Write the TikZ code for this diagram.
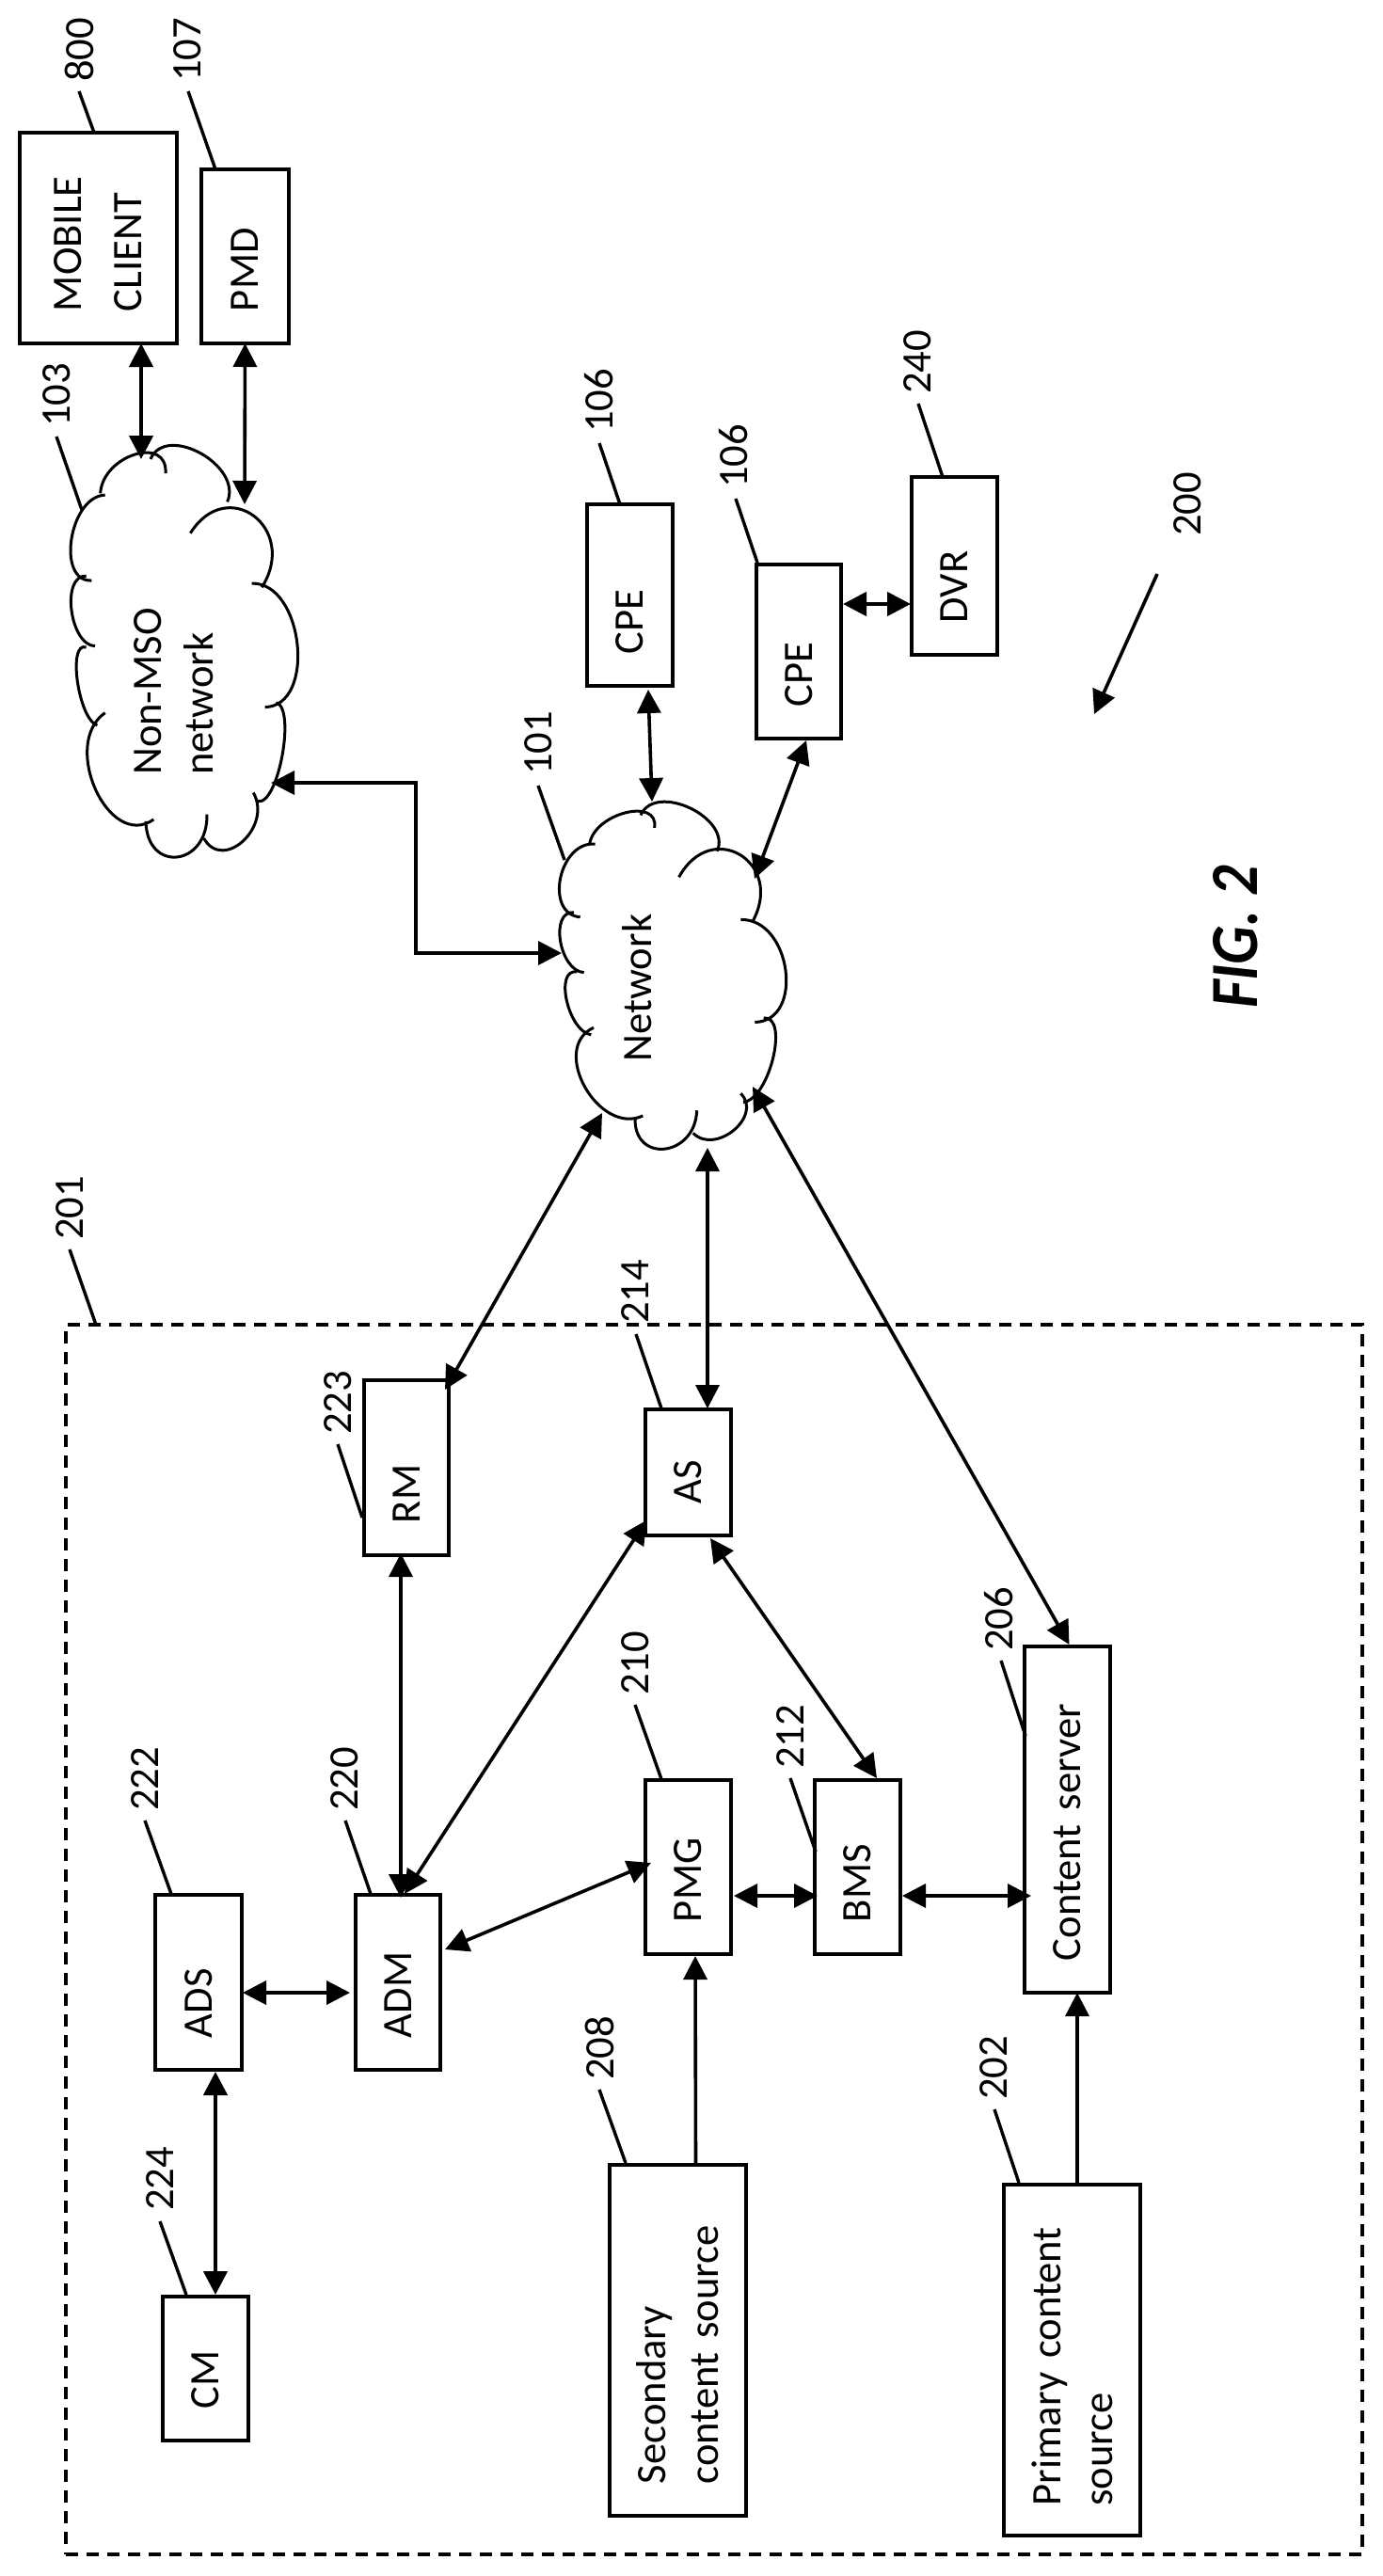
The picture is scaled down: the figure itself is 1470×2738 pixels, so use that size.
\documentclass[tikz,border=0pt]{standalone}
\usepackage{fontspec}
\setmainfont{Carlito}
\usetikzlibrary{arrows.meta,calc}
\tikzset{
  txt/.style={font=\fontsize{22.3}{26}\selectfont},
  lab/.style={txt,rotate=90,inner sep=0pt,outer sep=0pt},
  box/.style={txt,draw=black,line width=1.7pt,rotate=90,inner sep=0pt,outer sep=0pt,align=left},
  dbox/.style={draw=black,line width=1.7pt,dash pattern=on 6.5pt off 4.5pt,inner sep=0pt,outer sep=0pt},
  leader/.style={line width=1.7pt},
  cl/.style={line width=1.5pt},
  link/.style={line width=1.8pt,>={Triangle[width=12.5pt,length=12.5pt]},<->},
  oneway/.style={line width=1.8pt,>={Triangle[width=12.5pt,length=12.5pt]},->},
  heavy/.style={line width=2.2pt}
}
\newcommand\bx[6][]{\node[box,minimum width={(#5-#3)*0.5pt},minimum height={(#4-#2)*0.5pt},text width={(#5-#3-68)*0.5pt},#1] at ({(#2+#4)/2},{(#3+#5)/2}) #6;}
\newcommand\ld[3]{\coordinate (#1) at (#2); \draw[leader] (#1) -- (#3);}
\newcommand\lobe[3]{\coordinate (ls) at #1; \coordinate (lm) at #2; \coordinate (le) at #3;
  \draw[cl] (ls) .. controls ($(ls)+1.3333*(lm)-0.6667*(ls)-0.6667*(le)$) and ($(le)+1.3333*(lm)-0.6667*(ls)-0.6667*(le)$) .. (le);}
\begin{document}
\begin{tikzpicture}[x=0.5pt,y=-0.5pt]
\useasboundingbox (0,0) rectangle (1470,2738);
\fill[white] (0,0) rectangle (1470,2738);

% dashed enclosure
\node[dbox,minimum width=689pt,minimum height=653.5pt] (enc) at (759,2061.5) {};

% boxes
\bx{21}{141}{188}{365}{(mobile) {MOBILE\\[6pt]CLIENT}}
\bx{214}{180}{307}{365}{(pmd) {PMD}}
\bx{624}{536}{715}{729}{(cpea) {CPE}}
\bx{804}{600}{894}{785}{(cpeb) {CPE}}
\bx{969}{507}{1060}{696}{(dvr) {DVR}}
\bx{387}{1467}{477}{1653}{(rm) {RM}}
\bx{686}{1498}{777}{1632}{(as) {AS}}
\bx{165}{2014}{257}{2200}{(ads) {ADS}}
\bx{378}{2014}{468}{2200}{(adm) {ADM}}
\bx{686}{1892}{777}{2077}{(pmg) {PMG}}
\bx{866}{1892}{957}{2077}{(bms) {BMS}}
\bx{1089}{1750}{1180}{2118}{(content) {Content server}}
\bx{173}{2441}{264}{2594}{(cm) {CM}}
\bx{648}{2301}{793}{2674}{(secondary) {Secondary\\[2pt]content source}}
\bx[text width=155pt]{1067}{2322}{1212}{2695}{(primary) {Primary content\\[1.5pt]source}}

% Non-MSO cloud
\begin{scope}[xscale=0.33333,yscale=0.60606]
\lobe{(335,868)}{(228,945)}{(292,1018)}
\lobe{(275,1010)}{(228,1070)}{(303,1133)}
\lobe{(275,1135)}{(247,1195)}{(310,1272)}
\lobe{(335,1250)}{(305,1385)}{(490,1437)}
\lobe{(465,1440)}{(565,1503)}{(660,1428)}
\lobe{(650,1470)}{(775,1475)}{(808,1390)}
\lobe{(822,1405)}{(900,1325)}{(880,1232)}
\lobe{(845,1240)}{(948,1130)}{(803,1023)}
\lobe{(607,935)}{(810,905)}{(835,1030)}
\lobe{(725,880)}{(640,795)}{(480,805)}
\lobe{(528,830)}{(430,797)}{(320,865)}
\end{scope}
\node[lab,align=left] (nonmso) at (185,735) {Non-MSO\\[1.5pt]network};

% Network cloud
\begin{scope}[shift={(500,700)},xscale=0.33333,yscale=0.38265]
\lobe{(398,515)}{(287,610)}{(350,718)}
\lobe{(330,705)}{(287,785)}{(362,872)}
\lobe{(340,870)}{(307,950)}{(385,1045)}
\lobe{(393,1025)}{(365,1190)}{(550,1270)}
\lobe{(525,1275)}{(620,1362)}{(722,1255)}
\lobe{(710,1318)}{(840,1310)}{(862,1208)}
\lobe{(870,1232)}{(965,1110)}{(935,998)}
\lobe{(907,1010)}{(1005,865)}{(862,725)}
\lobe{(665,607)}{(860,545)}{(900,730)}
\lobe{(787,535)}{(700,415)}{(543,435)}
\lobe{(587,470)}{(495,428)}{(380,515)}
\end{scope}
\node[lab] (network) at (677,1050) {Network};

% cloud contact points
\coordinate (nA) at (150,488);
\coordinate (nB) at (260,536);
\coordinate (nC) at (288,832);
\coordinate (wA) at (597,1013);
\coordinate (wB) at (693,852);
\coordinate (wC) at (802,934);
\coordinate (wD) at (640,1183);
\coordinate (wE) at (752,1220);
\coordinate (wF) at (800,1155);
\coordinate (bendA) at (442,1013);
\coordinate (bendB) at (442,832);
\coordinate (cA) at (87,542);
\coordinate (cB) at (600,914);

% connectors
\draw[link,heavy] ($(mobile.west)+(45.5,0)$) -- (nA);
\draw[link] (pmd.west) -- (nB);
\draw[link] (nC) -- (bendB) -- (bendA) -- (wA);
\draw[link] ($(cpea.west)+(19.5,4)$) -- (wB);
\draw[link] ($(cpeb.west)+(8,2)$) -- (wC);
\draw[link,heavy] ($(cpeb.south)+(2,-50.5)$) -- ($(dvr.north)+(-1,40.5)$);
\draw[link] (wD) -- ($(rm.east)+(41,10)$);
\draw[link] (wE) -- ($(as.east)+(20.5,-1)$);
\draw[link] (wF) -- ($(content.east)+(2,-2)$);
\draw[link] ($(rm.west)+(-6,-2)$) -- ($(adm.east)+(3,3)$);
\draw[link] ($(as.north)+(1,51)$) -- ($(adm.east)+(7,-1)$);
\draw[link] ($(as.west)+(23.5,3)$) -- ($(bms.east)+(20.5,-2)$);
\draw[link] ($(adm.south)+(5,-35)$) -- ($(pmg.north)+(6,-4.5)$);
\draw[link] ($(pmg.south)+(3,30.5)$) -- ($(bms.north)+(3,30.5)$);
\draw[link] ($(bms.south)+(2,30.5)$) -- ($(content.north)+(7,81)$);
\draw[link] ($(ads.south)+(1,11)$) -- ($(adm.north)+(-6,11)$);
\draw[link,heavy] ($(ads.west)+(18,2)$) -- ($(cm.east)+(10.5,-2)$);
\draw[oneway] ($(secondary.east)+(19,0)$) -- ($(pmg.west)+(7.5,2)$);
\draw[oneway] ($(primary.east)+(5.5,0)$) -- ($(content.west)+(10.5,0)$);

% reference numerals
\node[lab] (l800) at (84,53) {800};
\node[lab] (l107) at (199,53) {107};
\node[lab] (l103) at (60,420) {103};
\node[lab] (l101) at (572,790) {101};
\node[lab] (l106a) at (637,426) {106};
\node[lab] (l106b) at (780,485) {106};
\node[lab] (l240) at (975,385) {240};
\node[lab] (l201) at (74,1284) {201};
\node[lab] (l223) at (359,1491) {223};
\node[lab] (l214) at (675,1373) {214};
\node[lab] (l222) at (154,1891) {222};
\node[lab] (l220) at (366,1891) {220};
\node[lab] (l210) at (675,1768) {210};
\node[lab] (l212) at (840,1846) {212};
\node[lab] (l206) at (1062,1721) {206};
\node[lab] (l224) at (170,2316) {224};
\node[lab] (l208) at (637,2177) {208};
\node[lab] (l202) at (1056,2198) {202};
\node[lab] (l200) at (1262,536) {200};

% leaders
\ld{s800}{84,97}{$(mobile.east)+(-4.5,0)$}
\ld{s107}{200,97}{$(pmd.east)+(-31.5,0)$}
\ld{s103}{60,464}{cA}
\ld{s101}{572,835}{cB}
\ld{s106a}{637,471}{$(cpea.east)+(-10.5,0)$}
\ld{s106b}{782,530}{$(cpeb.east)+(-44,-2)$}
\ld{s240}{976,429}{$(dvr.east)+(-12.5,0)$}
\ld{s201}{74,1328}{$(enc.north)+(-657,0)$}
\ld{s223}{359,1535}{$(rm.north)+(-2,53)$}
\ld{s214}{676,1418}{$(as.east)+(-28.5,-1)$}
\ld{s222}{154,1935}{$(ads.east)+(-29,-1)$}
\ld{s220}{367,1935}{$(adm.east)+(-29,-1)$}
\ld{s210}{675,1812}{$(pmg.east)+(-28.5,-1)$}
\ld{s212}{840,1890}{$(bms.north)+(1,-16.5)$}
\ld{s206}{1064,1765}{$(content.north)+(1,-89)$}
\ld{s224}{170,2361}{$(cm.east)+(-20.5,-2)$}
\ld{s208}{637,2221}{$(secondary.east)+(-55.5,-2)$}
\ld{s202}{1057,2242}{$(primary.east)+(-56.5,-2)$}

% system arrow
\coordinate (sysa) at (1230,610);
\coordinate (sysb) at (1163,759);
\draw[oneway] (sysa) -- (sysb);

% figure caption
\node[lab,font=\fontsize{32}{36}\selectfont\bfseries\itshape] (fig) at (1313,996) {\scalebox{1}[1.12]{FIG. 2}};
\end{tikzpicture}
\end{document}
